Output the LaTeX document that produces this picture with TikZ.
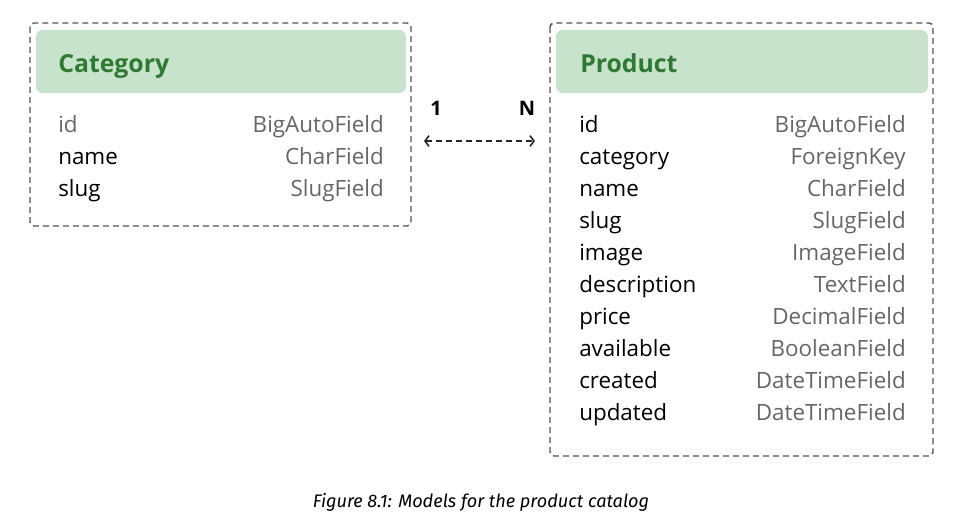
\documentclass[tikz,border=0pt]{standalone}
\usepackage{fontspec}
\setmainfont{Open Sans}
\newfontfamily\capfont{Fira Sans}
\usetikzlibrary{arrows.meta}
\definecolor{hdrfill}{HTML}{C8E3CC}
\definecolor{hdrtext}{HTML}{2E7A32}
\definecolor{typegray}{HTML}{666666}
\definecolor{dashgray}{HTML}{555555}
\tikzset{
	tablebox/.style={line width=1.1pt, dashgray, dash pattern=on 4.5pt off 3pt, rounded corners=3pt},
	headbox/.style={hdrfill, rounded corners=5pt},
	title/.style={anchor=mid west, yshift=-4.5pt, text=hdrtext, font=\fontsize{18.6}{22}\selectfont\bfseries, inner sep=0pt},
	fieldname/.style={anchor=mid west, yshift=-3.75pt, font=\fontsize{16.8}{20}\selectfont, inner sep=0pt},
	fieldtype/.style={anchor=mid east, yshift=-3.75pt, text=typegray, font=\fontsize{16.8}{20}\selectfont, inner sep=0pt},
	card/.style={font=\fontsize{15}{18}\selectfont\bfseries, inner sep=0pt}
}
\begin{document}
\begin{tikzpicture}[x=0.75pt, y=-0.75pt]
			\useasboundingbox (0,0) rectangle (977,524);
			% Category table
			\draw[tablebox] (30,23) rectangle (411,226);
			\fill[headbox] (36,30) rectangle (406,93);
			\node[title] (cattitle) at (58,63) {Category};
			\node[fieldname, text=typegray] (catid) at (58,124) {id};
			\node[fieldtype] (catidt) at (384,124) {BigAutoField};
			\node[fieldname] (catname) at (58,156) {name};
			\node[fieldtype] (catnamet) at (384,156) {CharField};
			\node[fieldname] (catslug) at (58,188) {slug};
			\node[fieldtype] (catslugt) at (384,188) {SlugField};
			% Product table
			\draw[tablebox] (550,23) rectangle (933,456);
			\fill[headbox] (556,30) rectangle (928,93);
			\node[title] (prodtitle) at (580,63) {Product};
			\node[fieldname] (prodid) at (579,124) {id};
			\node[fieldtype] (prodidt) at (906,124) {BigAutoField};
			\node[fieldname] (prodcat) at (579,156) {category};
			\node[fieldtype] (prodcatt) at (906,156) {ForeignKey};
			\node[fieldname] (prodname) at (579,188) {name};
			\node[fieldtype] (prodnamet) at (906,188) {CharField};
			\node[fieldname] (prodslug) at (579,220) {slug};
			\node[fieldtype] (prodslugt) at (906,220) {SlugField};
			\node[fieldname] (prodimg) at (579,252) {image};
			\node[fieldtype] (prodimgt) at (906,252) {ImageField};
			\node[fieldname] (proddesc) at (579,284) {description};
			\node[fieldtype] (proddesct) at (906,284) {TextField};
			\node[fieldname] (prodprice) at (579,316) {price};
			\node[fieldtype] (prodpricet) at (906,316) {DecimalField};
			\node[fieldname] (prodavail) at (579,348) {available};
			\node[fieldtype] (prodavailt) at (906,348) {BooleanField};
			\node[fieldname] (prodcreated) at (579,380) {created};
			\node[fieldtype] (prodcreatedt) at (906,380) {DateTimeField};
			\node[fieldname] (produpdated) at (579,412) {updated};
			\node[fieldtype] (produpdatedt) at (906,412) {DateTimeField};
			% relation
			\coordinate (relleft) at (424,141);
			\coordinate (relright) at (535,141);
			\draw[line width=1.2pt, black!85, dash pattern=on 4.5pt off 3pt, {Straight Barb[length=3pt,width=8pt]}-{Straight Barb[length=3pt,width=8pt]}] (relleft) -- (relright);
			\node[card] (one) at (436,108) {1};
			\node[card] (many) at (527,108) {N};
			% caption
			\node[font=\capfont\itshape\fontsize{13.6}{16}\selectfont] (caption) at (481,502) {Figure 8.1: Models for the product catalog};
		\end{tikzpicture}
\end{document}
